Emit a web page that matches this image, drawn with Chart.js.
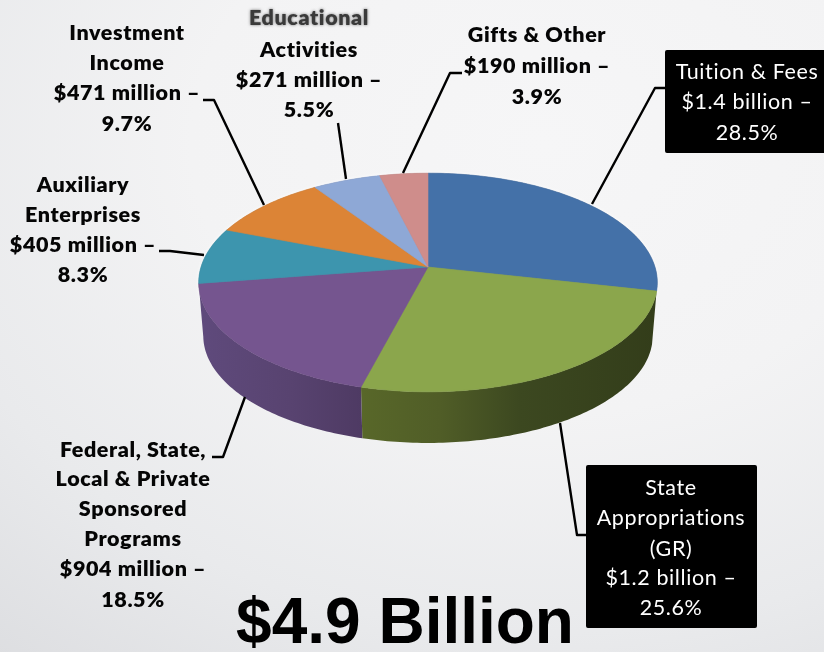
<!DOCTYPE html>
<html lang="en">
<head>
  <meta charset="UTF-8">
  <title>$4.9 Billion</title>
  <script src="https://cdn.jsdelivr.net/npm/chart.js"></script>
  <style>
    html, body { margin: 0; padding: 0; width: 824px; height: 652px; overflow: hidden; }
    body { background: radial-gradient(ellipse 880px 680px at 66% 22%, #f6f6f7 0%, #f3f3f4 40%, #e9eaec 72%, #dcdde0 100%); }
    canvas { display: block; }
  </style>
</head>
<body>
  <canvas id="myChart" width="824" height="652"></canvas>

  <script>
    const categories = ['Tuition & Fees', 'State Appropriations (GR)', 'Federal, State, Local & Private Sponsored Programs',
      'Auxiliary Enterprises', 'Investment Income', 'Educational Activities', 'Gifts & Other'];
    const percents = [28.5, 25.6, 18.5, 8.3, 9.7, 5.5, 3.9];
    const amounts = ['$1.4 billion', '$1.2 billion', '$904 million', '$405 million', '$471 million', '$271 million', '$190 million'];
    const topColors = ['#4471a8', '#8ba64c', '#75558f', '#3d95ae', '#dc8436', '#8ea8d6', '#cf8d8b'];
    const totalLabel = '$4.9 Billion';

    // perspective of the tilted pie
    const tilt = 0.472, persp = 0.1416;
    const depthY = 53.6, depthScale = 0.98;

    function project(arc, a, bottom) {
      const X = Math.cos(a), Y = -Math.sin(a);
      const w = 1 + persp * Y;
      const s = bottom ? depthScale : 1;
      return {
        x: arc.x + s * arc.outerRadius * X / w,
        y: arc.y + (bottom ? depthY : 0) - s * arc.outerRadius * tilt * Y / w
      };
    }

    function trace(ctx, arc, from, to, bottom, first) {
      const n = Math.max(8, Math.ceil(Math.abs(to - from) * 60));
      for (let i = 0; i <= n; i++) {
        const p = project(arc, from + (to - from) * i / n, bottom);
        if (first && i === 0) ctx.moveTo(p.x, p.y); else ctx.lineTo(p.x, p.y);
      }
    }

    const sideStops = {
      1: [[363, '#586729'], [440, '#505d27'], [520, '#3c4820'], [655, '#333d1a']],
      2: [[200, '#5f4a7c'], [290, '#584370'], [363, '#4e3a63']]
    };

    const pie3d = {
      id: 'pie3d',
      beforeDatasetDraw(chart) {
        const ctx = chart.ctx;
        const arcs = chart.getDatasetMeta(0).data;
        ctx.save();
        ctx.filter = 'blur(0.6px)';
        // soft rim
        ctx.beginPath();
        trace(ctx, arcs[0], 0, Math.PI * 2, false, true);
        ctx.closePath();
        ctx.shadowColor = 'rgba(255,255,255,0.9)';
        ctx.shadowBlur = 4;
        ctx.fillStyle = '#888';
        ctx.fill();
        ctx.shadowColor = 'transparent';
        ctx.shadowBlur = 0;

        arcs.forEach((arc, i) => {
          const stops = sideStops[i];
          if (!stops) return;
          const g = ctx.createLinearGradient(stops[0][0], 0, stops[stops.length - 1][0], 0);
          const span = stops[stops.length - 1][0] - stops[0][0];
          stops.forEach(s => g.addColorStop((s[0] - stops[0][0]) / span, s[1]));
          ctx.beginPath();
          trace(ctx, arc, arc.startAngle, arc.endAngle, false, true);
          trace(ctx, arc, arc.endAngle, arc.startAngle, true, false);
          ctx.closePath();
          ctx.fillStyle = g;
          ctx.fill();
        });

        arcs.forEach(arc => {
          ctx.beginPath();
          ctx.moveTo(arc.x, arc.y);
          trace(ctx, arc, arc.startAngle, arc.endAngle, false, false);
          ctx.closePath();
          ctx.fillStyle = arc.options.backgroundColor;
          ctx.fill();
          ctx.strokeStyle = arc.options.backgroundColor;
          ctx.lineWidth = 0.6;
          ctx.stroke();
        });
        ctx.restore();
        return false;
      }
    };

    const leaders = [
      [[665, 88], [655, 88], [592, 204]],
      [[586, 535], [577, 535], [560, 423]],
      [[212, 457], [223, 457], [245, 397]],
      [[159, 251], [170, 251], [204, 255]],
      [[203, 100], [214, 100], [264, 205]],
      [[338, 123], [346, 179]],
      [[462, 73], [450, 73], [403, 173]]
    ];

    const labelBlocks = [
      { x: 747, ys: [72, 102, 133], lines: ['Tuition & Fees', amounts[0] + ' –', percents[0] + '%'], white: true },
      { x: 671, ys: [488, 518, 549, 578, 608], lines: ['State', 'Appropriations', '(GR)', amounts[1] + ' –', percents[1] + '%'], white: true },
      { x: 133, ys: [450, 479, 509, 539, 569, 600], lines: ['Federal, State,', 'Local & Private', 'Sponsored', 'Programs', amounts[2] + ' –', percents[2] + '%'] },
      { x: 83, ys: [185, 215, 245, 275], lines: ['Auxiliary', 'Enterprises', amounts[3] + ' –', percents[3] + '%'] },
      { x: 127, ys: [33, 63, 93, 124], lines: ['Investment', 'Income', amounts[4] + ' –', percents[4] + '%'] },
      { x: 309, ys: [18, 50, 80, 110], lines: ['Educational', 'Activities', amounts[5] + ' –', percents[5] + '%'] },
      { x: 537, ys: [35, 66, 97], lines: ['Gifts & Other', amounts[6] + ' –', percents[6] + '%'] }
    ];

    const annotations = {
      id: 'annotations',
      afterDraw(chart) {
        const ctx = chart.ctx;
        ctx.save();
        // black boxes
        ctx.fillStyle = '#000';
        ctx.beginPath();
        ctx.roundRect(665, 50, 165, 103, 2);
        ctx.roundRect(586, 465, 171, 163, 2);
        ctx.fill();

        ctx.strokeStyle = '#000';
        ctx.lineWidth = 2.4;
        ctx.lineJoin = 'round';
        leaders.forEach(pts => {
          ctx.beginPath();
          pts.forEach((p, i) => i ? ctx.lineTo(p[0], p[1]) : ctx.moveTo(p[0], p[1]));
          ctx.stroke();
        });

        ctx.textAlign = 'center';
        ctx.textBaseline = 'middle';
        ctx.letterSpacing = '0.6px';
        labelBlocks.forEach(b => {
          ctx.font = (b.white ? '400 ' : '800 ') + '21.5px Lato';
          ctx.fillStyle = b.white ? '#fff' : '#050505';
          b.lines.forEach((t, i) => {
            if (t === 'Educational') {
              ctx.save();
              ctx.fillStyle = '#3a3a3a';
              ctx.shadowColor = 'rgba(60,60,60,0.7)';
              ctx.shadowBlur = 3;
              ctx.fillText(t, b.x, b.ys[i]);
              ctx.restore();
            } else {
              ctx.fillText(t, b.x, b.ys[i]);
            }
          });
        });

        ctx.letterSpacing = '0px';
        ctx.font = '700 64px "Liberation Sans"';
        ctx.fillStyle = '#000';
        ctx.textBaseline = 'alphabetic';
        ctx.fillText(totalLabel, 405, 643);
        ctx.restore();
      }
    };

    new Chart(document.getElementById('myChart').getContext('2d'), {
      type: 'pie',
      data: {
        labels: categories,
        datasets: [{ data: percents, backgroundColor: topColors, borderWidth: 0 }]
      },
      options: {
        responsive: false,
        animation: false,
        layout: { padding: { left: 201, right: 169, top: 40, bottom: 158 } },
        plugins: { legend: { display: false }, tooltip: { enabled: false }, title: { display: false } }
      },
      plugins: [pie3d, annotations]
    });
  </script>
</body>
</html>
